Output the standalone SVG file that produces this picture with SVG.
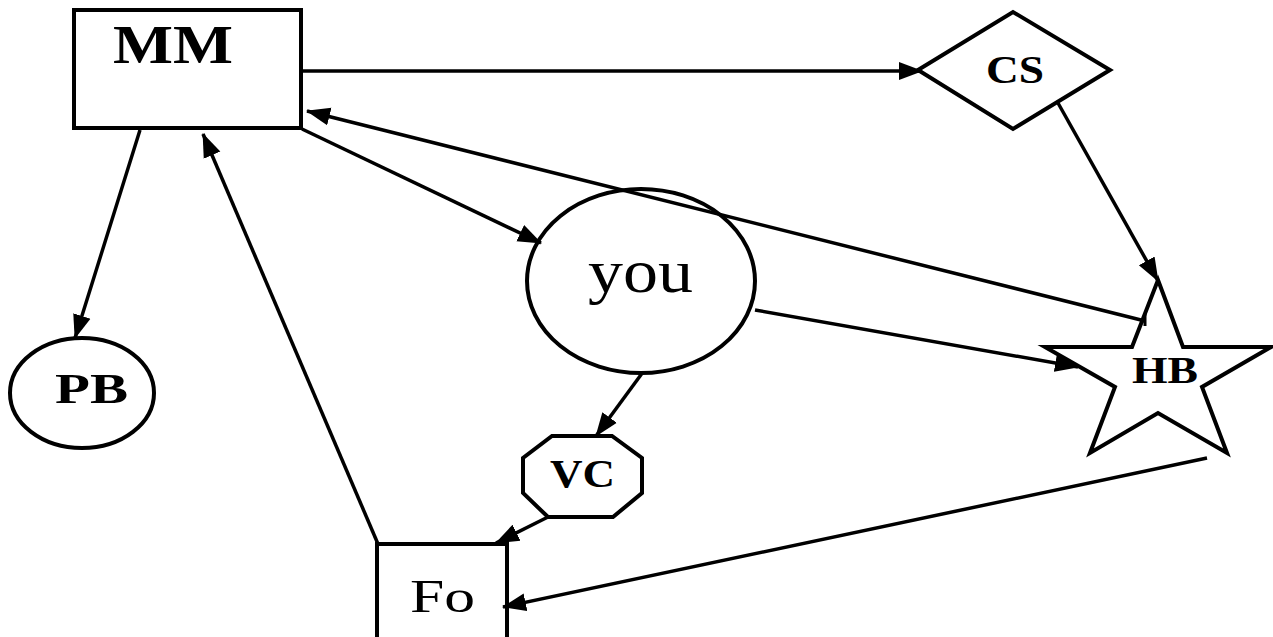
<svg xmlns="http://www.w3.org/2000/svg" width="1273" height="637" viewBox="0 0 1273 637">
<defs>
<style>
.s{fill:#fff;stroke:#000;stroke-width:4}
.c line{stroke:#000;stroke-width:3.5;marker-end:url(#ah)}
.b{font-family:"Liberation Serif",serif;font-weight:bold;fill:#000}
.r{font-family:"Liberation Serif",serif;fill:#000}
</style>
<marker id="ah" markerUnits="userSpaceOnUse" markerWidth="24" markerHeight="20" refX="23" refY="9" orient="auto" viewBox="0 0 24 18">
<path d="M0,0 L24,9 L0,18 z" fill="#000"/>
</marker>
</defs>
<rect width="1273" height="637" fill="#fff"/>
<g id="MM"><rect class="s" x="74" y="10" width="227" height="118"/><text class="b" x="113" y="63" font-size="55" textLength="120" lengthAdjust="spacingAndGlyphs">MM</text></g>
<g id="CS"><polygon class="s" points="918,70 1013,12 1110,70 1013,129"/><text class="b" x="986" y="83" font-size="41" textLength="58" lengthAdjust="spacingAndGlyphs">CS</text></g>
<g id="HB"><polygon class="s" points="1158,280 1183,347 1271,347 1202,387 1227,453 1158,413 1090,453 1115,387 1045,347 1132,347"/><text class="b" x="1132" y="383" font-size="38" textLength="66" lengthAdjust="spacingAndGlyphs">HB</text></g>
<g id="you"><ellipse class="s" cx="641" cy="281" rx="114" ry="92"/><text class="r" x="588" y="292" font-size="62" textLength="105" lengthAdjust="spacingAndGlyphs">you</text></g>
<g id="PB"><ellipse class="s" cx="82" cy="393" rx="72" ry="55"/><text class="b" x="55" y="403" font-size="43" textLength="73" lengthAdjust="spacingAndGlyphs">PB</text></g>
<g id="VC"><polygon class="s" points="552,436 612,436 642,458 642,493 613,517 548,517 523,493 523,458"/><text class="b" x="550" y="487" font-size="41" textLength="65" lengthAdjust="spacingAndGlyphs">VC</text></g>
<g id="Fo"><rect class="s" x="377" y="544" width="130" height="100"/><text class="r" x="410" y="612" font-size="46" textLength="65" lengthAdjust="spacingAndGlyphs">Fo</text></g>
<g class="c" id="connectors">
<line x1="301" y1="71" x2="922" y2="71"/>
<line x1="1058" y1="103" x2="1158" y2="281"/>
<line x1="1145" y1="321" x2="307" y2="111"/>
<line x1="302" y1="129" x2="541" y2="243"/>
<line x1="140" y1="130" x2="75" y2="338"/>
<line x1="378" y1="544" x2="203" y2="134"/>
<line x1="755" y1="310" x2="1078" y2="367"/>
<line x1="643" y1="372" x2="596" y2="436"/>
<line x1="548" y1="517" x2="496" y2="543"/>
<line x1="1207" y1="458" x2="503" y2="607"/>
</g>
<line x1="1145" y1="314" x2="1145" y2="326" stroke="#000" stroke-width="3"/>
</svg>
